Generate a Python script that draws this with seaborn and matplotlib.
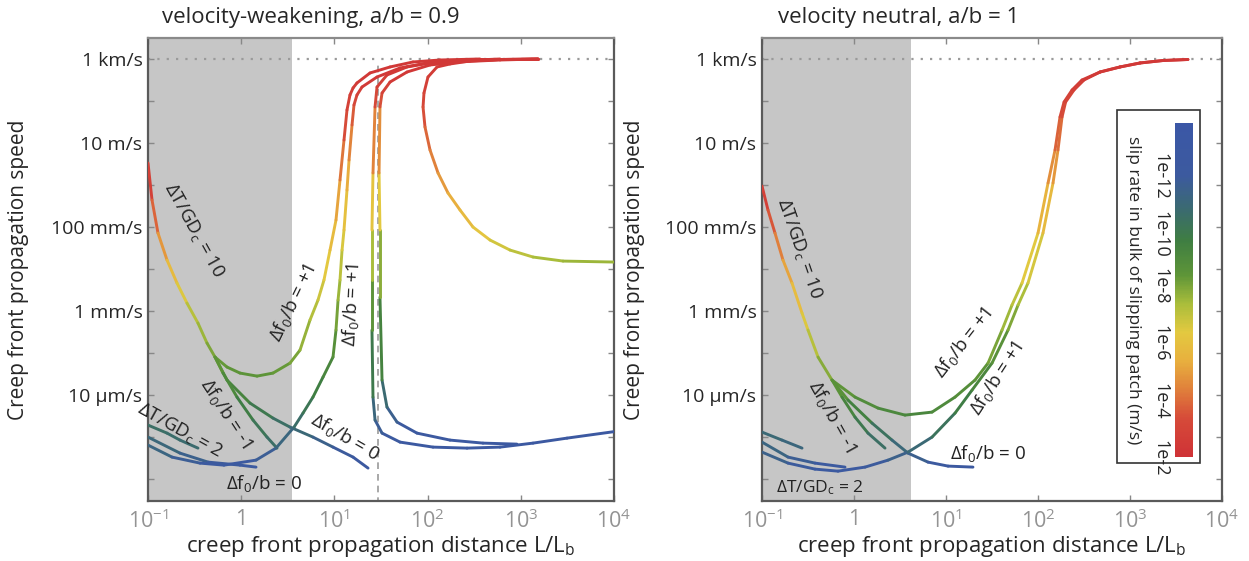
import numpy as np
import seaborn as sns
import matplotlib.pyplot as plt
from matplotlib.collections import LineCollection
from matplotlib.colors import LinearSegmentedColormap, Normalize
from matplotlib.cm import ScalarMappable
from matplotlib.patches import Rectangle
from matplotlib.ticker import NullLocator

# ---- data (log10 of L/Lb, log10 of speed in m/s, log10 of bulk slip rate in m/s) ----
# velocity-weakening panel, a/b = 0.9
vw_t10_up_x = [-1.0, -0.957, -0.893, -0.796, -0.689, -0.582, -0.464, -0.367, -0.281, -0.152, -0.013, 0.17,
               0.341, 0.524, 0.631, 0.738, 0.824, 0.888, 0.953, 1.017, 1.06, 1.103, 1.135, 1.167, 1.2,
               1.242, 1.382, 1.597, 1.843, 2.133, 2.562, 3.185]
vw_t10_up_y = [0.524, -0.357, -1.143, -1.786, -2.333, -2.81, -3.286, -3.762, -4.095, -4.333, -4.476, -4.548,
               -4.476, -4.238, -3.929, -3.214, -2.738, -2.262, -1.548, -0.833, 0.119, 1.071, 1.786, 2.143,
               2.31, 2.429, 2.667, 2.81, 2.929, 2.976, 3.0, 3.0]
vw_t10_up_c = [-2, -3, -4, -5, -5.8, -6.5, -7, -7.4, -7.8, -8.0, -8.1, -8.1, -8.0, -7.8, -7.5, -7, -6.6,
               -6.2, -5.7, -5.2, -4.3, -3.3, -2.7, -2.4, -2.3, -2.2, -2, -2, -2, -2, -2, -2]

vw_t10_zero_x = [-0.281, -0.152, 0.094, 0.341, 0.524, 0.77, 0.985, 1.2, 1.361]
vw_t10_zero_y = [-4.095, -4.643, -5.19, -5.548, -5.762, -6.0, -6.238, -6.476, -6.738]
vw_t10_zero_c = [-7.8, -8.5, -9.2, -9.8, -10.2, -10.7, -11.2, -11.6, -12]

vw_t10_dn_x = [-0.281, -0.195, -0.045, 0.127, 0.277, 0.384]
vw_t10_dn_y = [-4.095, -4.476, -5.048, -5.595, -6.0, -6.262]
vw_t10_dn_c = [-7.8, -8.3, -9, -9.5, -9.9, -10.2]

vw_t2_dn_x = [-1.0, -0.796, -0.657, -0.464]
vw_t2_dn_y = [-5.714, -5.905, -6.071, -6.262]
vw_t2_dn_c = [-10, -10.1, -10.2, -10.3]

vw_t2_zero_x = [-1.0, -0.657, -0.356, -0.013, 0.159]
vw_t2_zero_y = [-6.0, -6.381, -6.595, -6.667, -6.714]
vw_t2_zero_c = [-10.3, -10.8, -11.2, -11.6, -11.8]

vw_t2_up_x = [-1.0, -0.742, -0.442, -0.185, 0.159, 0.373, 0.567, 0.663, 0.77, 0.878, 0.985, 1.017, 1.039,
              1.06, 1.082, 1.103, 1.135, 1.157, 1.189, 1.21, 1.242, 1.296, 1.457, 1.704, 1.994, 2.273,
              2.777, 3.185]
vw_t2_up_y = [-6.19, -6.476, -6.619, -6.667, -6.548, -6.262, -5.762, -5.429, -5.048, -4.571, -4.095,
              -3.452, -2.738, -2.262, -1.548, -1.071, -0.119, 0.595, 1.429, 1.905, 2.143, 2.333, 2.571,
              2.786, 2.905, 2.952, 3.0, 3.0]
vw_t2_up_c = [-10.5, -11, -11.5, -11.8, -11.5, -11, -10.3, -9.9, -9.4, -9, -8.5, -8, -7.4, -7, -6.4, -6,
              -5.3, -4.6, -3.6, -3, -2.6, -2.3, -2, -2, -2, -2, -2, -2]

vw_late_a_x = [4.0, 3.496, 3.131, 2.777, 2.423, 2.058, 1.704, 1.511, 1.436, 1.414, 1.403, 1.403, 1.403,
               1.414, 1.436, 1.457, 1.564, 1.779, 2.026, 2.273, 2.777, 3.185]
vw_late_a_y = [-5.87, -6.024, -6.143, -6.238, -6.262, -6.238, -6.119, -5.905, -5.595, -5.048, -3.452,
               -2.262, -1.071, 0.286, 1.857, 2.333, 2.619, 2.81, 2.905, 2.952, 2.988, 3.0]
vw_late_a_c = [-12, -12, -12, -12, -12, -12, -11.8, -11.5, -11, -10.2, -8.7, -7.5, -6.5, -5, -3.2, -2.6,
               -2.2, -2, -2, -2, -2, -2]

vw_late_b_x = [2.959, 2.594, 2.24, 1.886, 1.672, 1.564, 1.511, 1.489, 1.489, 1.479, 1.489, 1.511, 1.597,
               1.779, 2.026, 2.316, 2.777, 3.185]
vw_late_b_y = [-6.167, -6.143, -6.071, -5.905, -5.643, -5.286, -4.643, -2.667, -1.071, 0.286, 1.857, 2.19,
               2.452, 2.69, 2.857, 2.929, 2.976, 3.0]
vw_late_b_c = [-12, -12, -11.9, -11.7, -11.3, -10.8, -9.8, -8, -6.8, -5.2, -3.4, -2.8, -2.3, -2, -2, -2,
               -2, -2]

vw_return_x = [3.185, 2.777, 2.455, 2.24, 2.101, 2.004, 1.961, 1.951, 1.972, 2.026, 2.112, 2.219, 2.348,
               2.487, 2.67, 2.884, 3.131, 3.453, 4.0]
vw_return_y = [3.0, 2.988, 2.952, 2.881, 2.81, 2.571, 2.19, 1.857, 1.381, 0.833, 0.286, -0.19, -0.595,
               -1.0, -1.31, -1.548, -1.714, -1.81, -1.833]
vw_return_c = [-2, -2, -2, -2, -2.1, -2.3, -2.6, -2.9, -3.3, -3.8, -4.3, -4.8, -5.2, -5.6, -6.1, -6.5,
               -6.9, -7.1, -7.3]

# velocity-neutral panel, a/b = 1
vn_t10_up_x = [-1.0, -0.935, -0.859, -0.772, -0.674, -0.565, -0.5, -0.391, -0.239, 0.011, 0.261, 0.554,
               0.848, 1.098, 1.315, 1.457, 1.609, 1.717, 1.826, 2.0, 2.109, 2.185, 2.239, 2.283, 2.37,
               2.478, 2.674, 2.891, 3.109, 3.359, 3.63]
vn_t10_up_y = [-0.024, -0.595, -1.143, -1.786, -2.333, -3.048, -3.452, -4.095, -4.643, -5.048, -5.31,
               -5.476, -5.405, -5.048, -4.643, -4.238, -3.452, -2.857, -2.333, -1.143, 0.048, 0.833, 1.619,
               1.976, 2.262, 2.5, 2.69, 2.81, 2.905, 2.964, 2.988]
vn_t10_up_c = [-2, -2.8, -3.6, -4.4, -5.1, -5.9, -6.4, -7.1, -7.8, -8.3, -8.6, -8.8, -8.7, -8.5, -8.2,
               -7.9, -7.4, -6.9, -6.5, -5.6, -4.7, -3.9, -3.0, -2.7, -2.4, -2.2, -2.1, -2, -2, -2, -2]

vn_t10_zero_x = [-0.239, -0.065, 0.196, 0.413, 0.587, 0.804, 1.022, 1.293]
vn_t10_zero_y = [-4.643, -5.119, -5.667, -6.071, -6.381, -6.595, -6.69, -6.714]
vn_t10_zero_c = [-7.8, -8.6, -9.5, -10.2, -10.8, -11.3, -11.7, -12]

vn_t10_dn_x = [-0.239, -0.13, 0.011, 0.152, 0.337]
vn_t10_dn_y = [-4.643, -5.048, -5.524, -5.905, -6.262]
vn_t10_dn_c = [-7.8, -8.5, -9.2, -9.8, -10.2]

vn_t2_dn_x = [-1.0, -0.783, -0.565]
vn_t2_dn_y = [-5.881, -6.071, -6.262]
vn_t2_dn_c = [-10.3, -10.5, -10.7]

vn_t2_zero_x = [-1.0, -0.717, -0.424, -0.098]
vn_t2_zero_y = [-6.119, -6.476, -6.619, -6.714]
vn_t2_zero_c = [-10.5, -11, -11.4, -11.7]

vn_t2_up_x = [-1.0, -0.717, -0.424, -0.174, 0.12, 0.37, 0.587, 0.848, 1.098, 1.283, 1.5, 1.674, 1.783,
              1.891, 2.054, 2.163, 2.217, 2.261, 2.3, 2.391, 2.5, 2.674, 2.891, 3.109, 3.359, 3.63]
vn_t2_up_y = [-6.357, -6.619, -6.762, -6.81, -6.714, -6.548, -6.357, -6.0, -5.429, -4.881, -4.238, -3.452,
              -2.857, -2.333, -1.143, 0.048, 0.833, 1.619, 1.976, 2.262, 2.5, 2.69, 2.81, 2.905, 2.964,
              2.988]
vn_t2_up_c = [-10.7, -11.2, -11.6, -11.8, -11.6, -11.2, -10.7, -10.1, -9.5, -9, -8.5, -7.9, -7.2, -6.7,
              -5.8, -4.9, -4.1, -3.2, -2.8, -2.5, -2.2, -2.1, -2, -2, -2, -2]

v_max = 1e3                  # 1 km/s
critical_L = 10 ** 1.47      # dashed line, left panel
shade_end_vw = 10 ** 0.55    # grey region, left panel
shade_end_vn = 10 ** 0.62    # grey region, right panel

# speed ticks: every decade, labels every second decade (keys are log10 of m/s)
speed_exps = list(range(-7, 4))
speed_labels = {3: '1 km/s', 1: '10 m/s', -1: '100 mm/s', -3: '1 mm/s', -5: '10 µm/s'}
dist_ticks = [1e-1, 1, 1e1, 1e2, 1e3, 1e4]
dist_labels = ['$10^{-1}$', '1', '$10^{1}$', '$10^{2}$', '$10^{3}$', '$10^{4}$']
slip_ticks = [-12, -10, -8, -6, -4, -2]
slip_labels = ['1e-12', '1e-10', '1e-8', '1e-6', '1e-4', '1e-2']

# colour scale (jet-like, as in the figure)
cmap_vals = [-13.3, -11.5, -10.2, -9.2, -8.0, -7.0, -6.0, -5.0, -4.0, -3.0, -1.65]
cmap_cols = ['#3b57a6', '#3c5a9f', '#3b6c6c', '#3f7e42', '#5e9538', '#a9bd3b', '#e3c940', '#e8b03e',
             '#e0803b', '#d64b39', '#cf3236']

sns.set_theme(style="ticks")
plt.rcParams['font.family'] = ['Open Sans', 'DejaVu Sans']
plt.rcParams['mathtext.fontset'] = 'custom'
plt.rcParams['mathtext.rm'] = 'Open Sans'
plt.rcParams['mathtext.it'] = 'Open Sans:italic'
plt.rcParams['mathtext.bf'] = 'Open Sans:bold'

vmin, vmax = cmap_vals[0], cmap_vals[-1]
pos = [(v - vmin) / (vmax - vmin) for v in cmap_vals]
cmap = LinearSegmentedColormap.from_list('slip', list(zip(pos, cmap_cols)))
norm = Normalize(vmin, vmax)


def draw_curve(ax, lx, ly, lc):
    x = 10.0 ** np.asarray(lx)
    y = 10.0 ** np.asarray(ly)
    c = np.asarray(lc, dtype=float)
    pts = np.column_stack([x, y]).reshape(-1, 1, 2)
    segs = np.concatenate([pts[:-1], pts[1:]], axis=1)
    coll = LineCollection(segs, cmap=cmap, norm=norm, linewidths=2.1,
                          capstyle='round', joinstyle='round', zorder=3)
    coll.set_array((c[:-1] + c[1:]) / 2)
    ax.add_collection(coll, autolim=False)


def setup_axes(ax, shade_end, title, title_x):
    ax.set_xscale('log')
    ax.set_yscale('log')
    ax.set_xlim(1e-1, 1e4)
    ax.set_ylim(10 ** -7.52, 10 ** 3.5)
    ax.axvspan(1e-1, shade_end, color='#c6c6c6', lw=0, zorder=0)
    ax.axhline(v_max, color='#9a9a9a', ls=(0, (1, 3.2)), lw=1.6, zorder=1)
    ax.set_xticks(dist_ticks)
    ax.set_xticklabels(dist_labels, color='#939393', fontsize=15.5)
    ax.xaxis.set_minor_locator(NullLocator())
    ax.set_yticks([10.0 ** e for e in speed_exps])
    ax.set_yticklabels([speed_labels.get(e, '') for e in speed_exps], fontsize=14)
    ax.yaxis.set_minor_locator(NullLocator())
    ax.tick_params(axis='both', direction='in', top=True, right=True, length=4, width=1,
                   color='#888888')
    ax.tick_params(axis='x', pad=6)
    ax.tick_params(axis='y', pad=4)
    for s in ax.spines.values():
        s.set_color('#5a5a5a')
        s.set_linewidth(1.6)
    ax.spines['top'].set_color('#8a8a8a')
    ax.set_xlabel('creep front propagation distance L/L$_{\\mathrm{b}}$', fontsize=16)
    ax.set_ylabel('Creep front propagation speed', fontsize=15)
    ax.xaxis.set_label_coords(0.5, -0.072)
    ax.yaxis.set_label_coords(-0.255, 0.5)
    ax.text(title_x, 1.045, title, transform=ax.transAxes, ha='center', va='center', fontsize=16)


def note(ax, lx, ly, s, rot, size=13.5):
    ax.text(10 ** lx, 10 ** ly, s, rotation=rot, rotation_mode='anchor', ha='center', va='center',
            fontsize=size, color='#222222', zorder=4)


fig = plt.figure(figsize=(12.49, 5.61), dpi=100)
ax1 = fig.add_axes([0.1185, 0.107, 0.3731, 0.8253])
ax2 = fig.add_axes([0.6101, 0.107, 0.3683, 0.8253])

setup_axes(ax1, shade_end_vw, 'velocity-weakening, a/b = 0.9', 0.35)
setup_axes(ax2, shade_end_vn, 'velocity neutral, a/b = 1', 0.296)

ax1.plot([critical_L, critical_L], [10 ** -7.6, 10 ** 2.86], color='#9a9a9a', ls=(0, (4, 3)),
         lw=1.2, zorder=2)

for lx, ly, lc in [(vw_t10_up_x, vw_t10_up_y, vw_t10_up_c),
                   (vw_t10_zero_x, vw_t10_zero_y, vw_t10_zero_c),
                   (vw_t10_dn_x, vw_t10_dn_y, vw_t10_dn_c),
                   (vw_t2_dn_x, vw_t2_dn_y, vw_t2_dn_c),
                   (vw_t2_zero_x, vw_t2_zero_y, vw_t2_zero_c),
                   (vw_t2_up_x, vw_t2_up_y, vw_t2_up_c),
                   (vw_late_a_x, vw_late_a_y, vw_late_a_c),
                   (vw_late_b_x, vw_late_b_y, vw_late_b_c),
                   (vw_return_x, vw_return_y, vw_return_c)]:
    draw_curve(ax1, lx, ly, lc)

for lx, ly, lc in [(vn_t10_up_x, vn_t10_up_y, vn_t10_up_c),
                   (vn_t10_zero_x, vn_t10_zero_y, vn_t10_zero_c),
                   (vn_t10_dn_x, vn_t10_dn_y, vn_t10_dn_c),
                   (vn_t2_dn_x, vn_t2_dn_y, vn_t2_dn_c),
                   (vn_t2_zero_x, vn_t2_zero_y, vn_t2_zero_c),
                   (vn_t2_up_x, vn_t2_up_y, vn_t2_up_c)]:
    draw_curve(ax2, lx, ly, lc)

# annotations, left panel
note(ax1, -0.5, -1.07, 'ΔT/GD$_{\\mathrm{c}}$ = 10', -61)
note(ax1, 0.556, -2.81, 'Δf$_0$/b = +1', 64)
note(ax1, 1.19, -2.86, 'Δf$_0$/b = +1', 87)
note(ax1, -0.163, -5.43, 'Δf$_0$/b = -1', -57)
note(ax1, -0.657, -5.83, 'ΔT/GD$_{\\mathrm{c}}$ = 2', -29)
note(ax1, 0.245, -7.095, 'Δf$_0$/b = 0', 0)
note(ax1, 1.114, -6.0, 'Δf$_0$/b = 0', -30)

# annotations, right panel
note(ax2, -0.587, -1.5, 'ΔT/GD$_{\\mathrm{c}}$ = 10', -71)
note(ax2, 1.185, -3.74, 'Δf$_0$/b = +1', 52)
note(ax2, 1.554, -4.6, 'Δf$_0$/b = +1', 57)
note(ax2, -0.239, -5.5, 'Δf$_0$/b = -1', -61)
note(ax2, 1.457, -6.38, 'Δf$_0$/b = 0', 0)
note(ax2, -0.37, -7.214, 'ΔT/GD$_{\\mathrm{c}}$ = 2', 0, size=12.5)

# colour bar inside the right panel
ax2.add_patch(Rectangle((0.772, 0.082), 0.18, 0.763, transform=ax2.transAxes, fc='white',
                        ec='#333333', lw=1.2, zorder=5))
cax = ax2.inset_axes([0.898, 0.095, 0.039, 0.721])
cax.set_zorder(6)
cb = fig.colorbar(ScalarMappable(norm=norm, cmap=cmap), cax=cax)
cb.outline.set_visible(False)
cb.ax.invert_yaxis()
cb.set_ticks(slip_ticks)
cb.set_ticklabels(slip_labels)
cax.yaxis.set_ticks_position('left')
cax.tick_params(direction='in', length=13, width=1.2, color='#e6e6e6', labelrotation=270,
                labelsize=13, pad=4)
cax.text(-2.35, 0.5, 'slip rate in bulk of slipping patch (m/s)', transform=cax.transAxes,
         rotation=270, ha='center', va='center', fontsize=12.5)

fig.savefig('out.png', dpi=100, facecolor='white')
